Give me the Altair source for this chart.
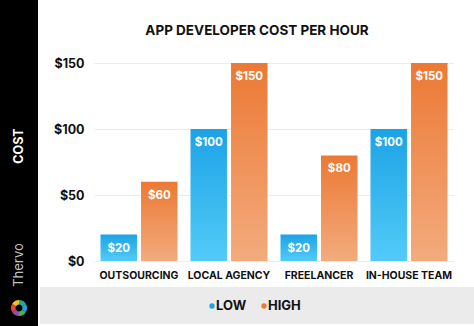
import altair as alt
import pandas as pd

categories = ["OUTSOURCING", "LOCAL AGENCY", "FREELANCER", "IN-HOUSE TEAM"]
low_values = [20, 100, 20, 100]
high_values = [60, 150, 80, 150]
series_names = ["LOW", "HIGH"]
y_ticks = [0, 50, 100, 150]
logo_colors = ["#2a9fd8", "#3fb34f", "#f2c01e", "#e8453c", "#8e4fa0", "#22a7a0"]

rows = []
for c, l, h in zip(categories, low_values, high_values):
    rows.append({"category": c, "series": "LOW", "value": l})
    rows.append({"category": c, "series": "HIGH", "value": h})
df = pd.DataFrame(rows)
df["label"] = "$" + df["value"].astype(str)

FONT = "Inter"
X0, Y0 = 94, 63
W, H = 360, 198

def grad(top, bottom):
    return alt.Gradient(
        gradient="linear",
        stops=[alt.GradientStop(offset=0, color=top), alt.GradientStop(offset=1, color=bottom)],
        x1=0, x2=0, y1=0, y2=1,
    )

blue = grad("#1ca3e6", "#52cbf8")
orange = grad("#ec7934", "#f3ab7e")

x_enc = alt.X(
    "category:N", sort=categories,
    scale=alt.Scale(paddingInner=13 / 90, paddingOuter=13 / 180),
    axis=alt.Axis(title=None, labelAngle=0, ticks=False, domain=False, labelFont=FONT,
                  labelFontWeight="bold", labelFontSize=10.5, labelColor="#111",
                  labelPadding=9),
)
xo_enc = alt.XOffset("series:N", sort=series_names,
                     scale=alt.Scale(domain=series_names, paddingInner=0.1, paddingOuter=0))
y_enc = alt.Y(
    "value:Q", scale=alt.Scale(domain=[0, 150], nice=False),
    axis=alt.Axis(values=y_ticks, labelExpr="'$' + datum.value", title=None, ticks=False,
                  domain=False, gridColor="#ececec", labelFont=FONT, labelFontWeight="bold",
                  labelFontSize=12.5, labelColor="#111", labelPadding=10),
)

one = alt.Data(values=[{}])

sidebar = alt.Chart(one).mark_rect(color="#000000").encode(
    x=alt.value(-X0), x2=alt.value(38 - X0), y=alt.value(-Y0), y2=alt.value(326 - Y0))
band = alt.Chart(one).mark_rect(color="#ebebeb").encode(
    x=alt.value(40 - X0), x2=alt.value(474 - X0), y=alt.value(287 - Y0), y2=alt.value(324 - Y0))

bars_low = alt.Chart(df).transform_filter("datum.series == 'LOW'").mark_bar(color=blue).encode(
    x=x_enc, xOffset=xo_enc, y=y_enc)
bars_high = alt.Chart(df).transform_filter("datum.series == 'HIGH'").mark_bar(color=orange).encode(
    x=x_enc, xOffset=xo_enc, y=y_enc)

labels = alt.Chart(df).mark_text(color="white", font=FONT, fontWeight="bold", fontSize=11.5,
                                 dy=14, baseline="middle").encode(
    x=x_enc, xOffset=xo_enc, y=y_enc, text="label:N")

title = alt.Chart(one).mark_text(font=FONT, fontWeight="bold", fontSize=13.5, color="#111",
                                 align="center", baseline="middle").encode(
    x=alt.value(257 - X0), y=alt.value(31 - Y0), text=alt.value("APP DEVELOPER COST PER HOUR"))

cost = alt.Chart(one).mark_text(font=FONT, fontWeight="bold", fontSize=12.5, color="white",
                                angle=270, align="center", baseline="middle").encode(
    x=alt.value(19 - X0), y=alt.value(146 - Y0), text=alt.value("COST"))

brand = alt.Chart(one).mark_text(font=FONT, fontSize=13, color="#c4c4c4",
                                 angle=270, align="center", baseline="middle").encode(
    x=alt.value(19 - X0), y=alt.value(265 - Y0), text=alt.value("Thervo"))

logo_df = pd.DataFrame({"c": logo_colors, "v": [1] * len(logo_colors)})
logo = alt.Chart(logo_df).mark_arc(radius=8, radius2=3.5).encode(
    theta=alt.Theta("v:Q", stack=True),
    color=alt.Color("c:N", scale=None),
    x=alt.value(19 - X0), y=alt.value(308 - Y0))

leg_df = pd.DataFrame({"name": series_names, "dotx": [212 - X0, 264 - X0],
                       "col": ["#1ca3e6", "#ec7934"]})
leg_dots = alt.Chart(leg_df).mark_point(filled=True, size=28, opacity=1).encode(
    x=alt.X("dotx:Q", scale=None), y=alt.value(306 - Y0), color=alt.Color("col:N", scale=None))
leg_text = alt.Chart(leg_df).transform_calculate(tx="datum.dotx + 4").mark_text(
    font=FONT, fontWeight="bold", fontSize=13, color="#111", align="left", baseline="middle").encode(
    x=alt.X("tx:Q", scale=None), y=alt.value(306 - Y0), text="name:N")

chart = alt.layer(sidebar, band, bars_low, bars_high, labels, title, cost, brand, logo,
                  leg_dots, leg_text).properties(
    width=W, height=H,
    autosize=alt.AutoSizeParams(type="none"),
    padding={"left": X0, "top": Y0, "right": 474 - X0 - W, "bottom": 326 - Y0 - H},
    background="white",
).configure_view(stroke=None)

chart.save("out.html", embed_options={"renderer": "svg", "actions": False})
